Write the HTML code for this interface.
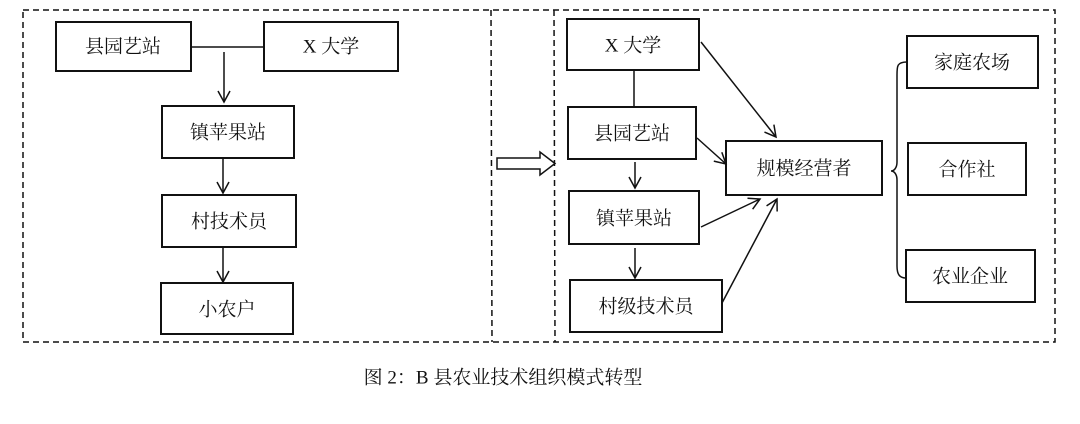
<!DOCTYPE html>
<html><head><meta charset="utf-8"><style>
body{margin:0;background:#fff;}
svg text{font-family:"Liberation Serif","Noto Serif CJK SC","Noto Sans CJK SC",serif;font-size:19px;fill:#111;text-anchor:middle;dominant-baseline:central;}
</style></head><body>
<svg width="1080" height="419" viewBox="0 0 1080 419" xmlns="http://www.w3.org/2000/svg">
<defs><marker id="a" markerWidth="14" markerHeight="14" refX="12" refY="7" orient="auto" markerUnits="userSpaceOnUse"><path d="M1,1 L12,7 L1,13" fill="none" stroke="#111" stroke-width="1.5"/></marker></defs>
<g fill="none" stroke="#111" stroke-width="1.5" stroke-dasharray="6,4">
<rect x="23" y="10" width="1032" height="332"/>
<line x1="491" y1="10" x2="492" y2="342"/>
<line x1="554" y1="10" x2="555" y2="342"/>
</g>
<g fill="#fff" stroke="#111" stroke-width="2">
<rect x="56" y="22" width="135" height="49"/>
<rect x="264" y="22" width="134" height="49"/>
<rect x="162" y="106" width="132" height="52"/>
<rect x="162" y="195" width="134" height="52"/>
<rect x="161" y="283" width="132" height="51"/>
<rect x="567" y="19" width="132" height="51"/>
<rect x="568" y="107" width="128" height="52"/>
<rect x="569" y="191" width="130" height="53"/>
<rect x="570" y="280" width="152" height="52"/>
<rect x="726" y="141" width="156" height="54"/>
<rect x="907" y="36" width="131" height="52"/>
<rect x="908" y="143" width="118" height="52"/>
<rect x="906" y="250" width="129" height="52"/>
</g>
<g stroke="#111" stroke-width="1.5" fill="none">
<line x1="191" y1="47" x2="264" y2="47"/>
<line x1="224" y1="52" x2="224" y2="102" marker-end="url(#a)"/>
<line x1="223" y1="158" x2="223" y2="193" marker-end="url(#a)"/>
<line x1="223" y1="247" x2="223" y2="282" marker-end="url(#a)"/>
<line x1="634" y1="70" x2="634" y2="107"/>
<line x1="635" y1="162" x2="635" y2="188" marker-end="url(#a)"/>
<line x1="635" y1="248" x2="635" y2="278" marker-end="url(#a)"/>
<line x1="701" y1="42" x2="776" y2="137" marker-end="url(#a)"/>
<line x1="697" y1="138" x2="726" y2="164" marker-end="url(#a)"/>
<line x1="701" y1="227" x2="760" y2="199" marker-end="url(#a)"/>
<line x1="722" y1="303" x2="777" y2="199" marker-end="url(#a)"/>
<path d="M907,62 C897,62 897,66 897,75 L897,162 C897,168 894,171 891,171 C894,171 897,174 897,180 L897,266 C897,275 900,278 906,278"/>
<path d="M497,158 L540,158 L540,152 L555,163.5 L540,175 L540,169 L497,169 Z" fill="#fff"/>
</g>
<text x="123" y="47">县园艺站</text>
<text x="331" y="47">X 大学</text>
<text x="228" y="133">镇苹果站</text>
<text x="229" y="222">村技术员</text>
<text x="227" y="310">小农户</text>
<text x="633" y="46">X 大学</text>
<text x="632" y="134">县园艺站</text>
<text x="634" y="219">镇苹果站</text>
<text x="646" y="307">村级技术员</text>
<text x="804" y="169">规模经营者</text>
<text x="972" y="63">家庭农场</text>
<text x="967" y="170">合作社</text>
<text x="970" y="277">农业企业</text>
<text x="503" y="378" style="font-size:19px">图 2：B 县农业技术组织模式转型</text>
</svg>
</body></html>
